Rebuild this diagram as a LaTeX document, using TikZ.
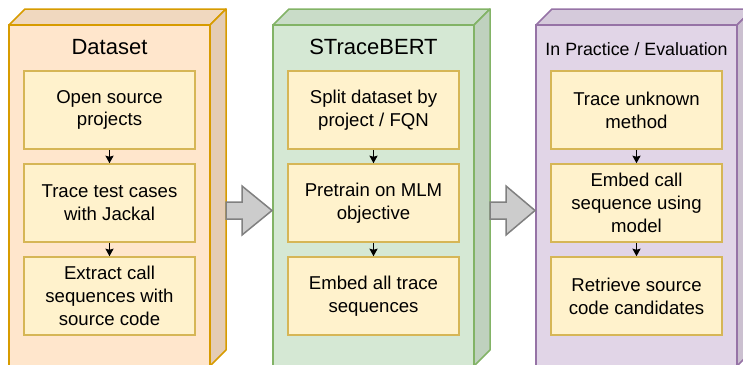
\documentclass[tikz,border=0pt]{standalone}
\usepackage{fontspec}
\setmainfont{Liberation Sans}
\usetikzlibrary{arrows.meta}

\definecolor{dsFront}{HTML}{FFE6CC}
\definecolor{dsTop}{HTML}{F0D8BF}
\definecolor{dsSide}{HTML}{E4CCB4}
\definecolor{dsLine}{HTML}{D79B00}
\definecolor{stFront}{HTML}{D5E8D4}
\definecolor{stTop}{HTML}{C9DCC8}
\definecolor{stSide}{HTML}{BFD1BE}
\definecolor{stLine}{HTML}{82B366}
\definecolor{evFront}{HTML}{E1D5E7}
\definecolor{evTop}{HTML}{D5CADB}
\definecolor{evSide}{HTML}{CBC0D0}
\definecolor{evLine}{HTML}{9673A6}
\definecolor{boxFill}{HTML}{FFF2CC}
\definecolor{boxLine}{HTML}{D6B656}
\definecolor{bigArrowFill}{HTML}{CCCCCC}
\definecolor{bigArrowLine}{HTML}{808080}

% stage cube: #1 left x, #2 right x, #3 front, #4 top, #5 side, #6 outline
\newcommand\stagecube[6]{%
  \draw[fill=#4, draw=#6, line width=1.5pt, line join=round]
    (#1,25) -- (#1+16,9) -- (#2+16,9) -- (#2,25) -- cycle;
  \draw[fill=#5, draw=#6, line width=1.5pt, line join=round]
    (#2,25) -- (#2+16,9) -- (#2+16,350) -- (#2,366) -- cycle;
  \draw[fill=#3, draw=#6, line width=1.5pt] (#1,25) rectangle (#2,366);
}
% grey block arrow: #1 tail x, #2 head base x, #3 tip x
\newcommand\blockarrow[3]{%
  \draw[fill=bigArrowFill, draw=bigArrowLine, line width=1.5pt, line join=miter]
    (#1,202) -- (#2,202) -- (#2,186) -- (#3,210.5) -- (#2,235) -- (#2,219) -- (#1,219) -- cycle;
}

\begin{document}
\begin{tikzpicture}[x=1pt, y=-1pt,
  stepbox/.style={draw=boxLine, fill=boxFill, line width=1.5pt,
    minimum width=171pt, minimum height=78pt, inner sep=0pt, align=center,
    font=\fontsize{18.6}{22.8}\selectfont},
  stagetitle/.style={font=\fontsize{22}{26}\selectfont, inner sep=0pt},
  smalltitle/.style={font=\fontsize{17.8}{21}\selectfont, inner sep=0pt},
  flow/.style={draw=black, line width=1.5pt, -{Stealth[length=7.5pt, width=8pt, inset=1pt]}}]

\useasboundingbox (0,0) rectangle (743,364);
\clip (0,0) rectangle (743,364);

% stage blocks
\stagecube{9}{210}{dsFront}{dsTop}{dsSide}{dsLine}
\stagecube{273}{474}{stFront}{stTop}{stSide}{stLine}
\stagecube{536}{737}{evFront}{evTop}{evSide}{evLine}

% arrows between stages
\blockarrow{226}{242}{272}
\blockarrow{490}{506}{535}

% Dataset
\node[stagetitle] (t1) at (109.5,47) {Dataset};
\node[stepbox] (a1) at (109.5,110) {Open source\\projects};
\node[stepbox] (a2) at (109.5,203) {Trace test cases\\with Jackal};
\node[stepbox] (a3) at (109.5,296) {Extract call\\sequences with\\source code};
\draw[flow] (a1) -- (a2);
\draw[flow] (a2) -- (a3);

% STraceBERT
\node[stagetitle] (t2) at (373.5,47) {STraceBERT};
\node[stepbox] (b1) at (373.5,110) {Split dataset by\\project / FQN};
\node[stepbox] (b2) at (373.5,203) {Pretrain on MLM\\objective};
\node[stepbox] (b3) at (373.5,296) {Embed all trace\\sequences};
\draw[flow] (b1) -- (b2);
\draw[flow] (b2) -- (b3);

% In practice / evaluation
\node[smalltitle] (t3) at (636.5,49) {In Practice / Evaluation};
\node[stepbox] (c1) at (636.5,110) {Trace unknown\\method};
\node[stepbox] (c2) at (636.5,203) {Embed call\\sequence using\\model};
\node[stepbox] (c3) at (636.5,296) {Retrieve source\\code candidates};
\draw[flow] (c1) -- (c2);
\draw[flow] (c2) -- (c3);
\end{tikzpicture}
\end{document}
